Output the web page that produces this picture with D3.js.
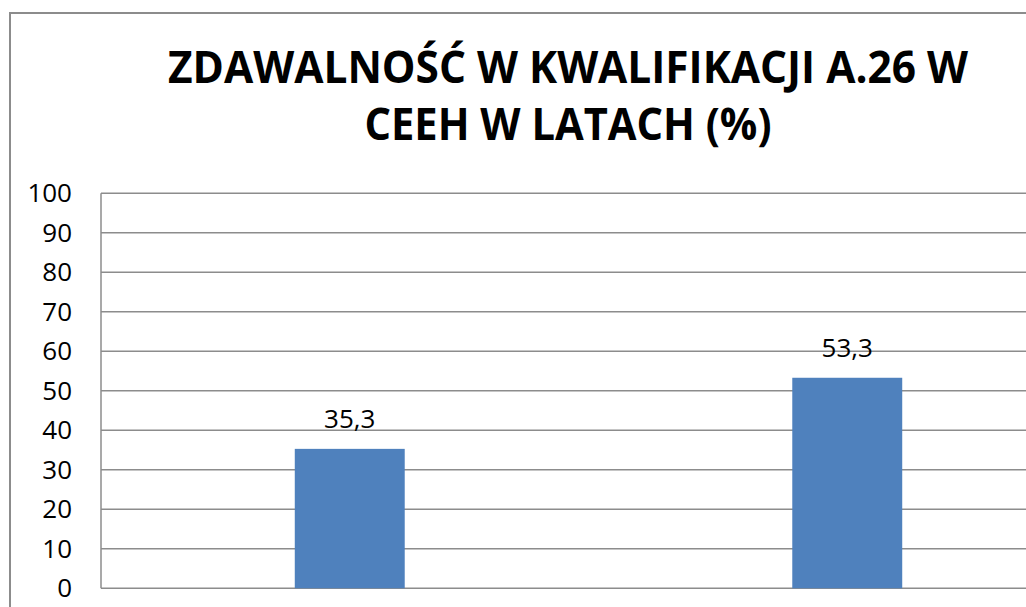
<!DOCTYPE html>
<html>
<head>
<meta charset="utf-8">
<script src="https://cdn.jsdelivr.net/npm/d3@7"></script>
<style>
  body { margin: 0; background: #fff; }
  svg { display: block; }
</style>
</head>
<body>
<div id="chart"></div>
<script>
const categories = ["A", "B"];
const values = [35.3, 53.3];
const yTicks = [0, 10, 20, 30, 40, 50, 60, 70, 80, 90, 100];
const titleLines = ["ZDAWALNOŚĆ W KWALIFIKACJI A.26 W", "CEEH W LATACH (%)"];

const width = 1026;
const height = 607;
const plot = { left: 101, right: 1096, top: 193.3, bottom: 588.3 };
const font = "'Open Sans', 'Noto Sans', sans-serif";
const gridColor = "#8c8c8c";

const svg = d3.select("#chart")
  .append("svg")
  .attr("width", width)
  .attr("height", height);

svg.append("rect")
  .attr("width", width)
  .attr("height", height)
  .attr("fill", "#fff");

// outer chart border (runs off the right and bottom edges)
svg.append("rect")
  .attr("x", 10)
  .attr("y", 13)
  .attr("width", 1200)
  .attr("height", 700)
  .attr("fill", "none")
  .attr("stroke", gridColor)
  .attr("stroke-width", 2);

const x = d3.scaleBand()
  .domain(categories)
  .range([plot.left, plot.right])
  .paddingInner(0.779)
  .paddingOuter(0.3895);

const y = d3.scaleLinear()
  .domain([0, 100])
  .range([plot.bottom, plot.top]);

// gridlines
svg.append("g")
  .selectAll("line")
  .data(yTicks)
  .join("line")
    .attr("x1", plot.left)
    .attr("x2", plot.right)
    .attr("y1", d => y(d))
    .attr("y2", d => y(d))
    .attr("stroke", gridColor)
    .attr("stroke-width", 1.5);

svg.append("line")
  .attr("x1", plot.left)
  .attr("x2", plot.left)
  .attr("y1", y(0))
  .attr("y2", y(100))
  .attr("stroke", gridColor)
  .attr("stroke-width", 1.5);

// y labels
function yAxis(g) {
  g.attr("transform", `translate(72,0)`)
    .call(d3.axisLeft(y).tickValues(yTicks).tickSize(0).tickPadding(0))
    .call(g => g.select(".domain").remove())
    .attr("font-family", font)
    .attr("font-size", 26)
    .selectAll("text").attr("fill", "#000");
}
svg.append("g").call(yAxis);

// bars
svg.append("g")
  .attr("fill", "#4f81bd")
  .selectAll("rect")
  .data(values)
  .join("rect")
    .attr("x", (d, i) => x(categories[i]))
    .attr("y", d => y(d))
    .attr("width", x.bandwidth())
    .attr("height", d => y(0) - y(d));

// value labels
svg.append("g")
  .attr("font-family", font)
  .attr("font-size", 26)
  .attr("text-anchor", "middle")
  .selectAll("text")
  .data(values)
  .join("text")
    .attr("x", (d, i) => x(categories[i]) + x.bandwidth() / 2)
    .attr("y", d => y(d) - 21)
    .text(d => d.toFixed(1).replace(".", ","));

// title
const titleLen = [800, 407];
const titleY = [83, 140];
svg.append("g")
  .attr("font-family", font)
  .attr("font-weight", "bold")
  .attr("font-size", 45)
  .attr("text-anchor", "middle")
  .selectAll("text")
  .data(titleLines)
  .join("text")
    .attr("x", 568)
    .attr("y", (d, i) => titleY[i])
    .attr("textLength", (d, i) => titleLen[i])
    .attr("lengthAdjust", "spacingAndGlyphs")
    .text(d => d);
</script>
</body>
</html>
